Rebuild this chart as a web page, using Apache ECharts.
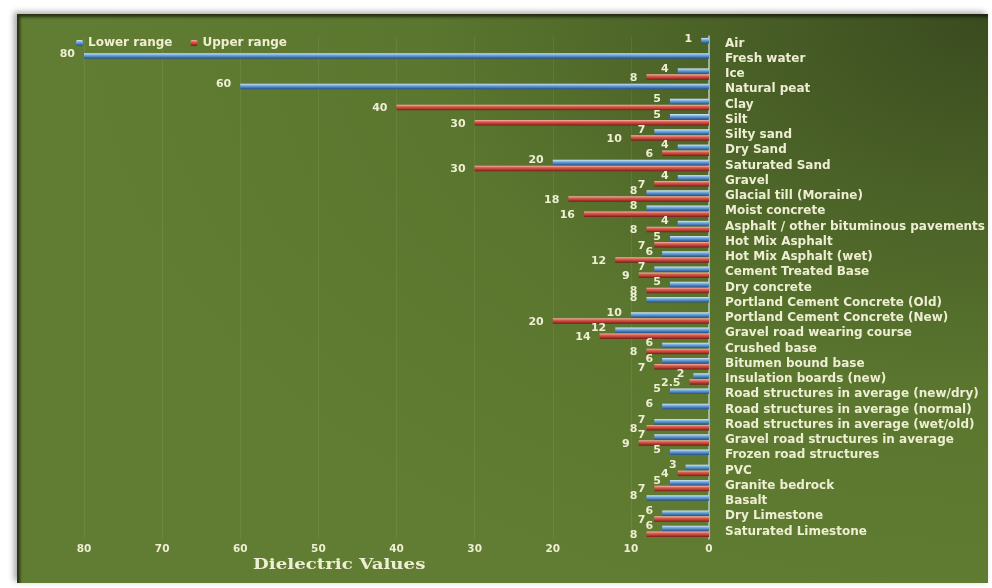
<!DOCTYPE html>
<html>
<head>
<meta charset="utf-8">
<script src="https://cdn.jsdelivr.net/npm/echarts@6/dist/echarts.min.js"></script>
<style>
  html, body { margin: 0; padding: 0; background: #ffffff; }
  #wrap { position: relative; width: 992px; height: 588px; overflow: hidden; }
  #panel {
    position: absolute; left: 17px; top: 14px; width: 971px; height: 569px;
    background: radial-gradient(ellipse 95% 110% at 100% 0%, #3a4b1f 0%, #4a6127 30%, #5b772f 62%, #617d33 100%);
    box-shadow: inset 3px 3px 3px rgba(20,25,10,0.75), -3px -2px 6px rgba(0,0,0,0.35);
  }
  #chart { position: absolute; left: 0; top: 0; width: 992px; height: 588px; }
</style>
</head>
<body>
<div id="wrap">
  <div id="panel"></div>
  <div id="chart"></div>
</div>
<script>
// Dielectric constants of common materials (lower / upper bound of range)
const materials = [
  'Air', 'Fresh water', 'Ice', 'Natural peat', 'Clay', 'Silt', 'Silty sand', 'Dry Sand',
  'Saturated Sand', 'Gravel', 'Glacial till (Moraine)', 'Moist concrete',
  'Asphalt / other bituminous pavements', 'Hot Mix Asphalt', 'Hot Mix Asphalt (wet)',
  'Cement Treated Base', 'Dry concrete', 'Portland Cement Concrete (Old)',
  'Portland Cement Concrete (New)', 'Gravel road wearing course', 'Crushed base',
  'Bitumen bound base', 'Insulation boards (new)', 'Road structures in average (new/dry)',
  'Road structures in average (normal)', 'Road structures in average (wet/old)',
  'Gravel road structures in average', 'Frozen road structures', 'PVC', 'Granite bedrock',
  'Basalt', 'Dry Limestone', 'Saturated Limestone'
];
const lowerRange = [1, 80, 4, 60, 5, 5, 7, 4, 20, 4, 8, 8, 4, 5, 6, 7, 5, 8, 10, 12, 6, 6, 2, 5, 6, 7, 7, 5, 3, 5, 8, 6, 6];
const upperRange = [null, null, 8, null, 40, 30, 10, 6, 30, 7, 18, 16, 8, 7, 12, 9, 8, null, 20, 14, 8, 7, 2.5, null, null, 8, 9, null, 4, 7, null, 7, 8];
const valueTicks = [0, 10, 20, 30, 40, 50, 60, 70, 80];

const cream = '#eeeed2';
const font = '"DejaVu Sans", "Open Sans", sans-serif';

function tube(stops) {
  return new echarts.graphic.LinearGradient(0, 0, 0, 1, stops.map((c, i) => ({ offset: i / (stops.length - 1), color: c })));
}

const chart = echarts.init(document.getElementById('chart'), null, { renderer: 'canvas' });

const labelBase = {
  show: true, position: 'left', distance: 9, color: cream,
  fontFamily: font, fontSize: 11, fontWeight: 'bold',
  formatter: p => (p.value == null ? '' : String(p.value))
};

chart.setOption({
  backgroundColor: 'transparent',
  animation: false,
  legend: {
    left: 71, top: 32,
    itemWidth: 7, itemHeight: 6, itemGap: 18,
    textStyle: { color: cream, fontFamily: font, fontSize: 12, fontWeight: 'bold' },
    data: ['Lower range', 'Upper range']
  },
  grid: { left: 84, right: 283, top: 36, bottom: 49, containLabel: false },
  xAxis: {
    type: 'value', inverse: true, min: valueTicks[0], max: valueTicks[valueTicks.length - 1], interval: 10,
    axisLine: { show: false }, axisTick: { show: false },
    splitLine: { show: true, lineStyle: { color: 'rgba(255,255,235,0.07)', width: 1 } },
    axisLabel: { color: cream, fontFamily: font, fontSize: 10.5, fontWeight: 'bold', margin: 5 }
  },
  yAxis: {
    type: 'category', inverse: true, position: 'right', data: materials,
    axisLine: { show: true, lineStyle: { color: '#b9cbb8', width: 1.5 } },
    axisTick: { show: false },
    axisLabel: { interval: 0, color: cream, fontFamily: font, fontSize: 12, fontWeight: 'bold', margin: 16 }
  },
  series: [
    {
      name: 'Lower range', type: 'bar', data: lowerRange,
      barWidth: 5.5, barGap: '8%',
      itemStyle: { color: tube(['#d6e8f8', '#79b0e0', '#4a7fbc', '#2a4f7f']) },
      label: Object.assign({}, labelBase, { offset: [0, -2] })
    },
    {
      name: 'Upper range', type: 'bar', data: upperRange,
      barWidth: 5.5, barGap: '8%',
      itemStyle: { color: tube(['#f4b7a6', '#dc5d50', '#b63b30', '#6a2016']) },
      label: Object.assign({}, labelBase, { offset: [0, 1] })
    }
  ],
  graphic: [{
    type: 'text', left: 253, top: 558, scaleX: 1.3,
    style: {
      text: 'Dielectric Values', fill: cream,
      font: 'bold 14px "DejaVu Serif", "Liberation Serif", serif'
    }
  }]
});
</script>
</body>
</html>
